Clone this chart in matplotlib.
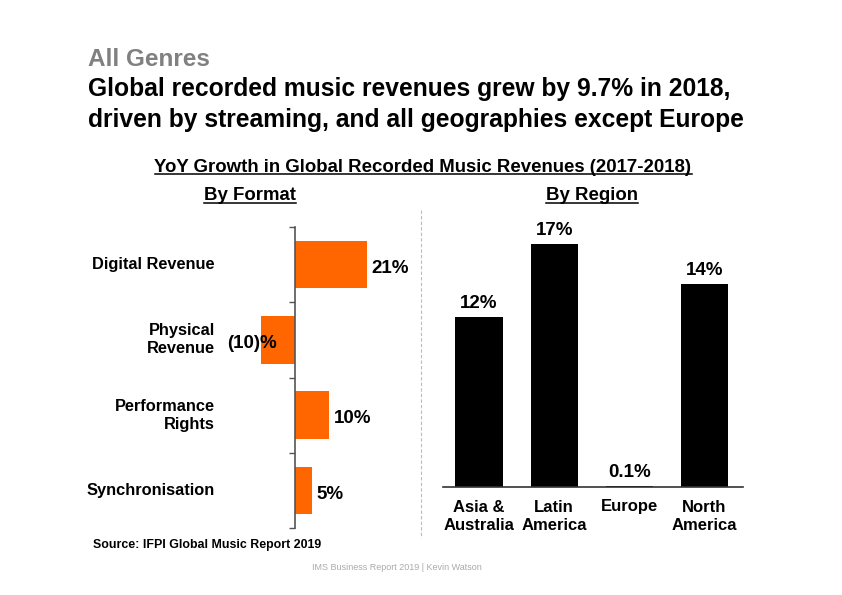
import matplotlib
matplotlib.use("Agg")
import matplotlib.pyplot as plt
from matplotlib.lines import Line2D

plt.rcParams['font.family'] = ['Liberation Sans', 'DejaVu Sans']
plt.rcParams['font.weight'] = 'bold'

# data
formats = ["Digital Revenue", "Physical\nRevenue", "Performance\nRights", "Synchronisation"]
format_growth = [21, -10, 10, 5]
format_labels = ["21%", "(10)%", "10%", "5%"]

regions = ["Asia &\nAustralia", "Latin\nAmerica", "Europe", "North\nAmerica"]
region_growth = [11.8, 16.9, 0.1, 14.1]
region_labels = ["12%", "17%", "0.1%", "14%"]

W, H = 842, 595
fig = plt.figure(figsize=(W / 100, H / 100), dpi=100)


def fx(px):
    return px / W


def fy(py):
    return 1 - py / H


orange = "#FF6600"

# ---- left chart: by format ----
axL = fig.add_axes([fx(240), fy(528), fx(180), 301 / H])
ypos = list(range(len(formats)))
axL.barh(ypos, format_growth, height=0.63, color=orange)
axL.set_ylim(3.5, -0.5)
axL.set_xlim(-(295 - 240) / 3.43, (420 - 295) / 3.43)
for s in ["top", "right", "bottom"]:
    axL.spines[s].set_visible(False)
axL.spines["left"].set_position(("data", 0))
axL.spines["left"].set_color("#555555")
axL.spines["left"].set_linewidth(1.2)
axL.set_xticks([])
axL.set_yticks([-0.5, 0.5, 1.5, 2.5, 3.5])
axL.set_yticklabels([])
axL.tick_params(axis="y", length=4, color="#555555", width=1)
tr = axL.get_yaxis_transform()
for i, (name, v, lab) in enumerate(zip(formats, format_growth, format_labels)):
    axL.text(-(240 - 215) / 180, i, name, transform=tr, ha="right", va="center",
             multialignment="right", fontsize=11.8, fontweight="bold", linespacing=1.25)
    if v >= 0:
        axL.text(v + 1.2, i + 0.05, lab, ha="left", va="center", fontsize=13.5, fontweight="bold")
    else:
        axL.text(-19.8, i + 0.05, lab, ha="left", va="center", fontsize=13.5, fontweight="bold",
                 clip_on=False)

# ---- right chart: by region ----
axR = fig.add_axes([fx(443), fy(487), fx(300), 260 / H])
xpos = list(range(len(regions)))
axR.bar(xpos, region_growth, width=0.63, color="black")
axR.set_xlim((443 - 479) / 75, 3 + (743 - 704.5) / 75)
axR.set_ylim(0, 260 / 14.4)
for s in ["top", "right", "left"]:
    axR.spines[s].set_visible(False)
axR.spines["bottom"].set_color("#333333")
axR.spines["bottom"].set_linewidth(1.2)
axR.set_yticks([])
axR.set_xticks(xpos)
axR.set_xticklabels(regions, fontsize=12, fontweight="bold", linespacing=1.25)
axR.tick_params(axis="x", length=0, pad=9)
for x, v, lab in zip(xpos, region_growth, region_labels):
    axR.text(x, v + 0.35, lab, ha="center", va="bottom", fontsize=13.5, fontweight="bold")

# separator
fig.add_artist(Line2D([fx(421), fx(421)], [fy(210), fy(538)], color="#bbbbbb",
                      linestyle=(0, (3, 2)), linewidth=0.8))

# ---- titles ----
fig.text(fx(88), fy(60), "All Genres", color="#808080", fontsize=17.5, fontweight="bold",
         va="center", ha="left")
fig.text(fx(88), fy(104.5), "Global recorded music revenues grew by 9.7% in 2018,\n"
         "driven by streaming, and all geographies except Europe",
         fontsize=17.7, fontweight="bold", va="center", ha="left", linespacing=1.32)

underlined = [
    fig.text(fx(423), fy(167), "YoY Growth in Global Recorded Music Revenues (2017-2018)",
             fontsize=13.4, fontweight="bold", ha="center", va="center"),
    fig.text(fx(250), fy(196), "By Format", fontsize=13.4, fontweight="bold", ha="center", va="center"),
    fig.text(fx(592), fy(196), "By Region", fontsize=13.4, fontweight="bold", ha="center", va="center"),
]

fig.text(fx(93), fy(545), "Source: IFPI Global Music Report 2019", fontsize=8.9,
         fontweight="bold", ha="left", va="center")
fig.text(fx(312), fy(567), "IMS Business Report 2019 | Kevin Watson", fontsize=6.5,
         fontweight="normal", color="#aaaaaa", ha="left", va="center")

fig.canvas.draw()
r = fig.canvas.get_renderer()
for t in underlined:
    bb = t.get_window_extent(r)
    y = (bb.y0 + 1.5) / H
    fig.add_artist(Line2D([bb.x0 / W, bb.x1 / W], [y, y], color="black", linewidth=1.1))

fig.savefig("out.png", dpi=100)
